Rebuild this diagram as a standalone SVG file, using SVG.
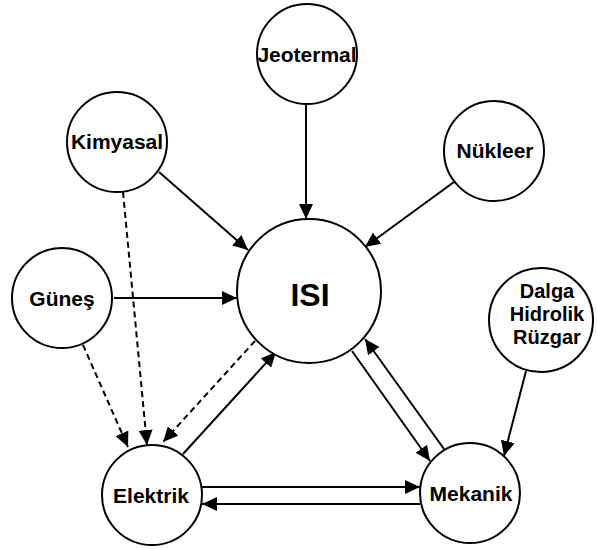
<svg xmlns="http://www.w3.org/2000/svg" width="597" height="549" viewBox="0 0 597 549">
<style>
.node circle{fill:#fff;stroke:#000;stroke-width:2}
.node text{font-family:"Liberation Sans",Arial,sans-serif;font-weight:bold;font-size:21px;fill:#000;text-anchor:middle}
.edge{stroke:#000;stroke-width:2;fill:none;marker-end:url(#arr)}
.dash{stroke-dasharray:6 4}
</style>
<defs>
<marker id="arr" markerUnits="userSpaceOnUse" markerWidth="16" markerHeight="14" refX="15" refY="7" orient="auto">
<path d="M0,0 L15,7 L0,14 z" fill="#000"/>
</marker>
</defs>
<rect width="597" height="549" fill="#fff"/>
<g id="connectors">
<line class="edge" x1="306" y1="104" x2="306" y2="219"/>
<line class="edge" x1="159" y1="172" x2="248" y2="250"/>
<line class="edge" x1="454" y1="182" x2="365" y2="247"/>
<line class="edge" x1="114" y1="298" x2="237" y2="298"/>
<line class="edge dash" x1="123" y1="192" x2="147" y2="445"/>
<line class="edge dash" x1="83" y1="345" x2="128" y2="447"/>
<line class="edge dash" x1="255" y1="341" x2="163" y2="442"/>
<line class="edge" x1="183" y1="454" x2="276" y2="352"/>
<line class="edge" x1="202" y1="487" x2="420" y2="487"/>
<line class="edge" x1="420" y1="504" x2="202" y2="504"/>
<line class="edge" x1="352" y1="351" x2="430" y2="461"/>
<line class="edge" x1="444" y1="449" x2="365" y2="339"/>
<line class="edge" x1="526" y1="371" x2="504" y2="456"/>
</g>
<g id="jeotermal" class="node"><circle cx="307" cy="54" r="50"/><text x="307" y="62">Jeotermal</text></g>
<g id="kimyasal" class="node"><circle cx="117" cy="142" r="50"/><text x="117" y="149">Kimyasal</text></g>
<g id="nukleer" class="node"><circle cx="494" cy="151" r="50"/><text x="495" y="158">Nükleer</text></g>
<g id="isi" class="node"><circle cx="309" cy="291" r="72"/><text x="310" y="306" style="font-size:32px">ISI</text></g>
<g id="gunes" class="node"><circle cx="62" cy="298" r="50"/><text x="62" y="306">Güneş</text></g>
<g id="dalga" class="node"><circle cx="541" cy="320" r="52"/><text x="547" y="298" style="font-size:20px">Dalga</text><text x="547" y="321" style="font-size:20px">Hidrolik</text><text x="547" y="344" style="font-size:20px">Rüzgar</text></g>
<g id="elektrik" class="node"><circle cx="152" cy="495" r="50"/><text x="151" y="503">Elektrik</text></g>
<g id="mekanik" class="node"><circle cx="470" cy="493" r="50"/><text x="471" y="501">Mekanik</text></g>
</svg>
